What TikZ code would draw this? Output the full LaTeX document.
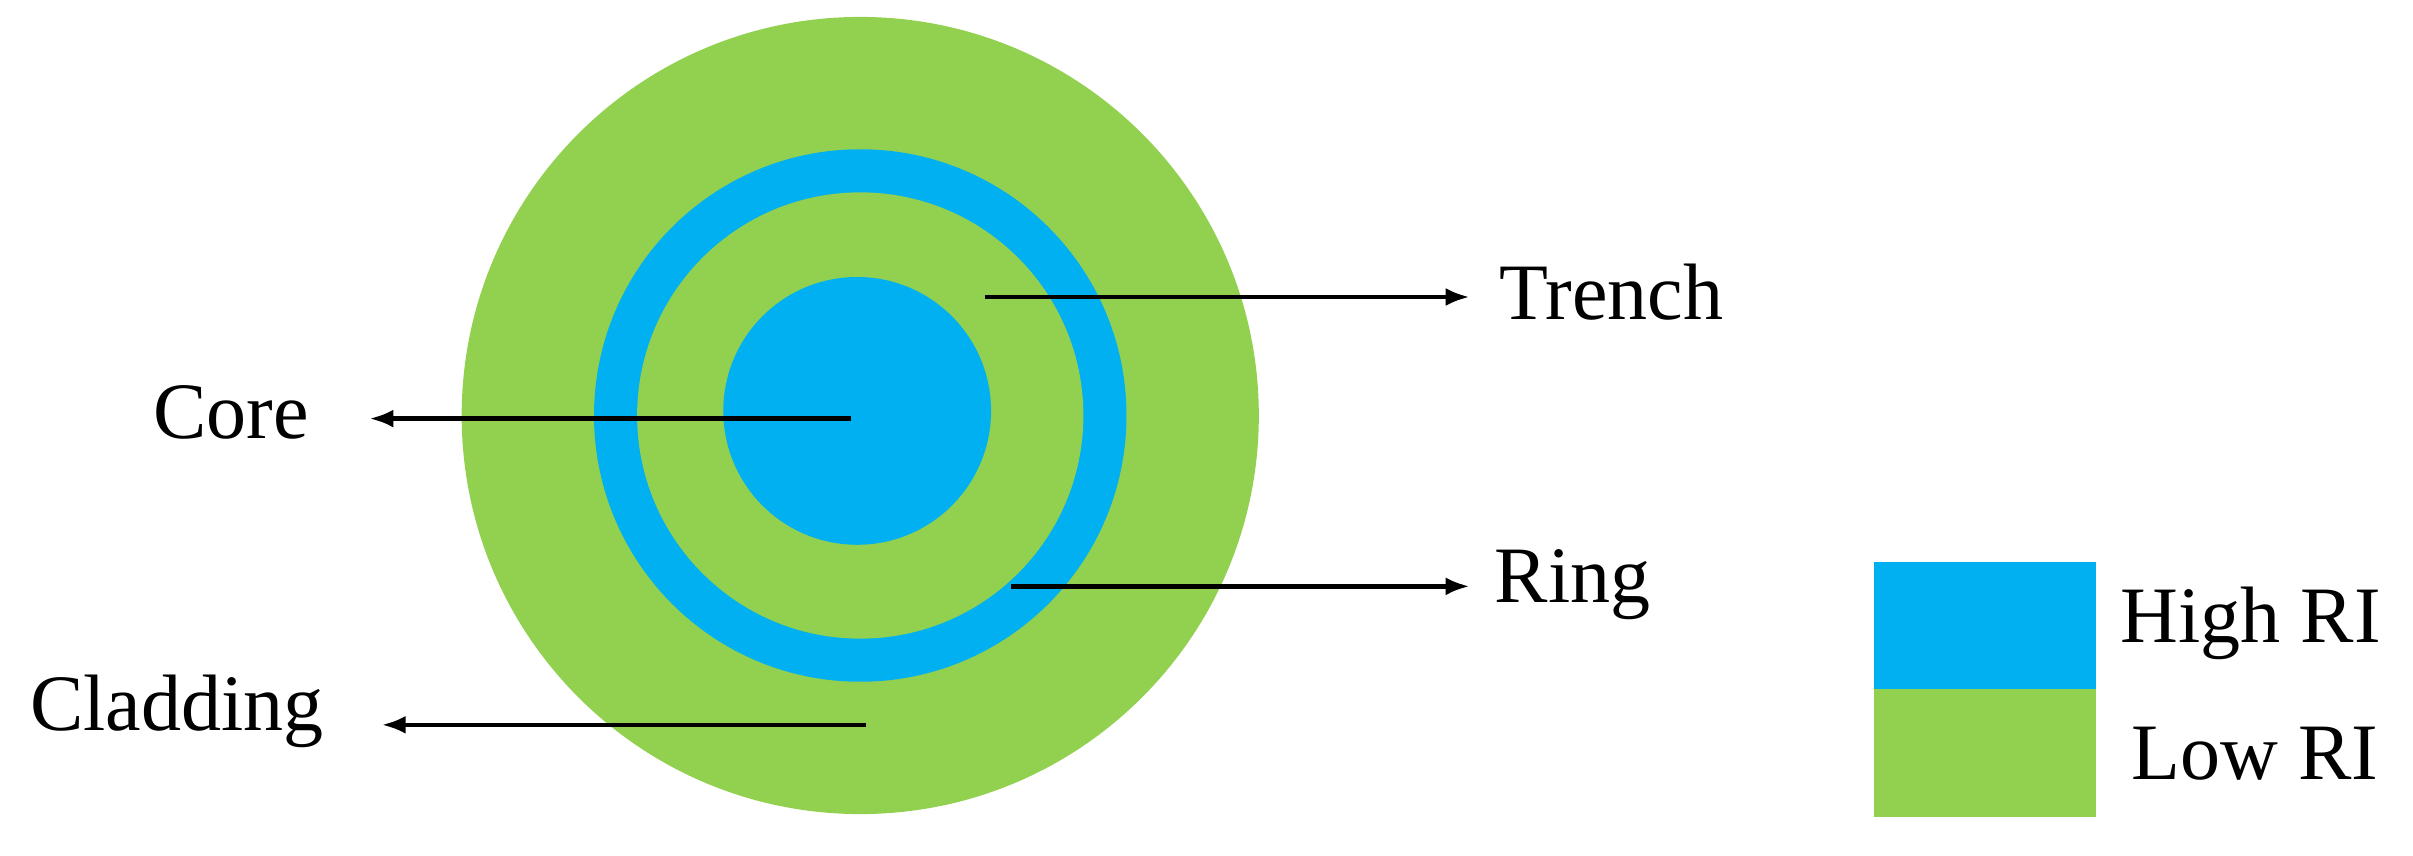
\documentclass[tikz,border=0pt]{standalone}
\usepackage{fontspec}
\setmainfont{Liberation Serif}
\usetikzlibrary{arrows.meta}
\definecolor{hiblue}{HTML}{00B0F0}
\definecolor{logreen}{HTML}{92D050}
\begin{document}
\begin{tikzpicture}[x=1.539pt,y=-1.539pt,
  lbl/.style={font=\fontsize{80}{90}\selectfont,inner sep=0pt},
  arr/.style={line width=4.6pt,-{Latex[length=24pt,width=18pt]}}]
\useasboundingbox (0,0) rectangle (1568,555.6);
\fill[logreen] (559,270) circle (259);
\fill[hiblue] (559,270) circle (173);
\fill[logreen] (559,270) circle (145);
\fill[hiblue] (557,267) circle (87);
\coordinate (c0) at (553,272);
\coordinate (t0) at (640,193);
\coordinate (r0) at (657,381);
\coordinate (d0) at (563,471);
\node[lbl] (core) at (150,268) {Core};
\node[lbl] (trench) at (1047,190) {Trench};
\node[lbl] (ring) at (1022,380) {Ring};
\node[lbl] (clad) at (115,462) {Cladding};
\draw[arr] (c0) -- (240,272) coordinate (c1);
\draw[arr] (t0) -- (955,193) coordinate (t1);
\draw[arr] (r0) -- (955,381) coordinate (r1);
\draw[arr] (d0) -- (248,471) coordinate (d1);
\fill[hiblue] (1218,365) rectangle (1362,448);
\fill[logreen] (1218,448) rectangle (1362,531);
\node[lbl,anchor=west] (hi) at (1378,405) {High RI};
\node[lbl,anchor=west] (lo) at (1385,490) {Low RI};
\end{tikzpicture}
\end{document}
